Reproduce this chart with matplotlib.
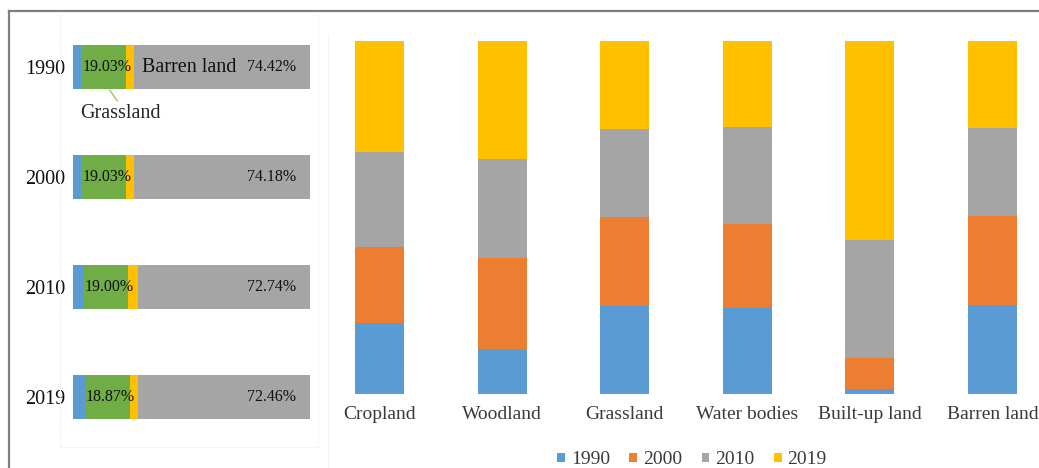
import matplotlib
matplotlib.use("Agg")
import matplotlib.pyplot as plt
from matplotlib.lines import Line2D
from matplotlib.patches import Patch

plt.rcParams['font.family'] = ['Liberation Serif', 'DejaVu Serif']

# ---- Left panel: land-use composition per year (%) ----
years = ['1990', '2000', '2010', '2019']
cropland_share = [3.40, 3.40, 4.30, 5.00]
grassland_share = [19.03, 19.03, 19.00, 18.87]
other_share = [3.15, 3.39, 3.96, 3.67]
barren_share = [74.42, 74.18, 72.74, 72.46]

# ---- Right panel: share of each year within a land type (%) ----
land_types = ['Cropland', 'Woodland', 'Grassland', 'Water bodies',
              'Built-up land', 'Barren land']
share_1990 = [20.0, 12.7, 24.9, 24.4, 1.5, 25.2]
share_2000 = [21.7, 25.7, 25.1, 23.7, 8.7, 25.3]
share_2010 = [26.9, 28.0, 25.1, 27.5, 33.5, 24.9]
share_2019 = [31.4, 33.6, 24.9, 24.4, 56.3, 24.6]

BLUE, ORANGE, GRAY, YELLOW, GREEN = '#5B9BD5', '#ED7D31', '#A5A5A5', '#FFC000', '#70AD47'

W, H = 1039, 468
fig = plt.figure(figsize=(W / 100, H / 100), dpi=100)


def fx(x):
    return x / W


def fy(y):
    return 1 - y / H


# outer frame (top and left edges)
fig.add_artist(Line2D([fx(8.5), 1.0], [fy(10.5), fy(10.5)], color='#7f7f7f', lw=1.6))
fig.add_artist(Line2D([fx(8.5), fx(8.5)], [fy(10.5), 0.0], color='#7f7f7f', lw=1.6))
# faint plot-area outlines
fig.add_artist(Line2D([fx(60), fx(60)], [fy(14), fy(447)], color='#f5f5f5', lw=0.8))
fig.add_artist(Line2D([fx(60), fx(318)], [fy(447), fy(447)], color='#f5f5f5', lw=0.8))
fig.add_artist(Line2D([fx(318), fx(318)], [fy(14), fy(447)], color='#f5f5f5', lw=0.8))
fig.add_artist(Line2D([fx(328), fx(328)], [fy(35), 0.0], color='#f5f5f5', lw=0.8))

# ---- left horizontal stacked bars ----
axl = fig.add_axes([fx(73), fy(452), 237 / W, 440 / H])
ypos = list(range(len(years)))
left = [0.0] * len(years)
for vals, col in [(cropland_share, BLUE), (grassland_share, GREEN),
                  (other_share, YELLOW), (barren_share, GRAY)]:
    axl.barh(ypos, vals, left=left, height=0.4, color=col, edgecolor='none')
    left = [a + b for a, b in zip(left, vals)]

for i in ypos:
    g0 = cropland_share[i]
    axl.text(g0 + grassland_share[i] / 2 + 1.3, i, f'{grassland_share[i]:.2f}%',
             ha='center', va='center', fontsize=11.5, color='#111111')
    axl.text(94.3, i, f'{barren_share[i]:.2f}%', ha='right', va='center',
             fontsize=11.5, color='#111111')

axl.text(29.0, 0, 'Barren land', ha='left', va='center', fontsize=14.5, color='#111111')
axl.annotate('Grassland', xy=(15.5, 0.21), xytext=(3.2, 0.42),
             ha='left', va='center', fontsize=14.5, color='#262626',
             arrowprops=dict(arrowstyle='-', color='#8cc870', lw=1.0,
                             shrinkA=0, shrinkB=0, relpos=(0.48, 1.0)))

axl.set_xlim(0, 100)
axl.set_ylim(3.5, -0.5)
axl.set_yticks(ypos, years, fontsize=14.5, color='#111111')
axl.tick_params(axis='y', length=0, pad=5.5)
axl.set_xticks([])
for s in axl.spines.values():
    s.set_visible(False)

# ---- right vertical stacked bars ----
axr = fig.add_axes([fx(330), fy(394), 700 / W, 353.3 / H])
xpos = list(range(len(land_types)))
bottom = [0.0] * len(land_types)
handles = []
for vals, col, lab in [(share_1990, BLUE, '1990'), (share_2000, ORANGE, '2000'),
                       (share_2010, GRAY, '2010'), (share_2019, YELLOW, '2019')]:
    axr.bar(xpos, vals, bottom=bottom, width=0.4, color=col, edgecolor='none')
    bottom = [a + b for a, b in zip(bottom, vals)]
    handles.append(Patch(facecolor=col, edgecolor='none', label=lab))

scale = 122.6
axr.set_xlim(-(379.5 - 330) / scale, 5 + (1030 - 992.5) / scale)
axr.set_ylim(0, 100)
axr.set_xticks(xpos, land_types, fontsize=14, color='#3a3a3a')
axr.tick_params(axis='x', length=0, pad=8.5)
axr.set_yticks([])
for s in axr.spines.values():
    s.set_visible(False)

fig.legend(handles=handles, loc='center', bbox_to_anchor=(fx(692), fy(460)),
           ncol=4, frameon=False, fontsize=14, handlelength=0.4,
           handleheight=0.4, handletextpad=0.3, columnspacing=1.0,
           labelcolor='#3a3a3a')

fig.savefig('out.png', dpi=100)
